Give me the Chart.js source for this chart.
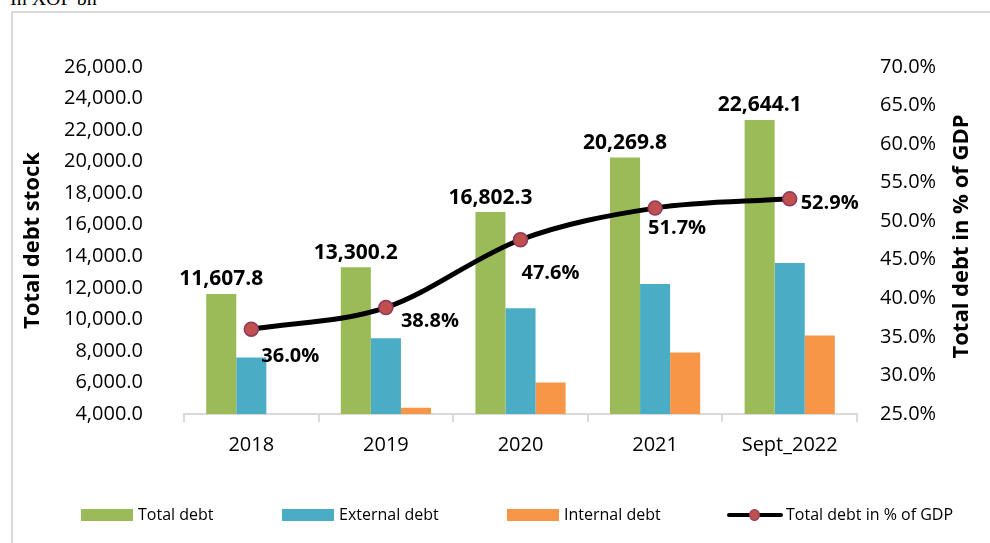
<!DOCTYPE html>
<html lang="en">
  <script src="https://cdnjs.cloudflare.com/ajax/libs/Chart.js/4.4.1/chart.umd.min.js"></script>
  <head>
    <meta charset="UTF-8" />
    <title>Total debt stock</title>
    <style>
      body { margin: 0; width: 990px; height: 543px; overflow: hidden; position: relative; background: #fff; }
      .unit { position: absolute; left: 10px; top: -13px; font: 20px "Liberation Serif", serif; color: #000; }
      .frame { position: absolute; left: 11px; top: 11px; width: 1000px; height: 560px; border: 2px solid #d9d9d9; }
      #wrap { position: absolute; left: 13px; top: 13px; width: 977px; height: 530px; }
      .legend { position: absolute; top: 504px; font: 16px "Open Sans", sans-serif; color: #000; height: 20px; line-height: 20px; }
      .legend .box { display: inline-block; width: 52px; height: 12px; vertical-align: -1px; margin-right: 5px; }
      .legend .ln { display: inline-block; position: relative; width: 56px; height: 12px; vertical-align: -1px; margin-right: 3px; }
      .legend .ln::before { content: ""; position: absolute; left: 0; right: 0; top: 4px; height: 4px; background: #000; border-radius: 2px; }
      .legend .ln::after { content: ""; position: absolute; left: 22px; top: 0; width: 9px; height: 10px; border-radius: 50%; background: #c0504d; border: 1px solid #8b3a62; }
    </style>
  </head>
  <body>
    <div class="unit">In XOF bn</div>
    <div class="frame"></div>
    <div id="wrap"><canvas id="debtChart" width="977" height="530"></canvas></div>

    <div class="legend" style="left:81px"><span class="box" style="background:#9bbb59"></span>Total debt</div>
    <div class="legend" style="left:282px"><span class="box" style="background:#4bacc6"></span>External debt</div>
    <div class="legend" style="left:507px"><span class="box" style="background:#f79646"></span>Internal debt</div>
    <div class="legend" style="left:727px"><span class="ln"></span>Total debt in % of GDP</div>

    <script>
      var years = ["2018", "2019", "2020", "2021", "Sept_2022"];
      var totalDebt = [11607.8, 13300.2, 16802.3, 20269.8, 22644.1];
      var externalDebt = [7580, 8800, 10700, 12250, 13570];
      var internalDebt = [4000, 4400, 6000, 7900, 8970];
      var debtToGdp = [36.0, 38.8, 47.6, 51.7, 52.9];

      var rightTitle = "Total debt in % of GDP";

      // where each % label sits relative to its point
      var pctLabelShift = [[39, 27], [44, 14], [30, 34], [22, 20], [40, 4]];

      var fontName = "'Open Sans', sans-serif";

      var labelPlugin = {
        id: "valueLabels",
        afterDatasetsDraw: function (chart) {
          var ctx = chart.ctx;
          ctx.save();
          ctx.fillStyle = "#000";
          ctx.font = "bold 21px " + fontName;
          ctx.textAlign = "center";
          ctx.textBaseline = "bottom";
          chart.getDatasetMeta(0).data.forEach(function (bar, i) {
            ctx.fillText(totalDebt[i].toLocaleString("en-US", { minimumFractionDigits: 1 }), bar.x, bar.y - 4);
          });
          ctx.font = "bold 20px " + fontName;
          ctx.textBaseline = "middle";
          chart.getDatasetMeta(3).data.forEach(function (pt, i) {
            ctx.fillText(debtToGdp[i].toFixed(1) + "%", pt.x + pctLabelShift[i][0], pt.y + pctLabelShift[i][1]);
          });
          ctx.restore();
        },
        afterDraw: function (chart) {
          // right axis title reads bottom-to-top, like the left one
          var ctx = chart.ctx;
          var area = chart.chartArea;
          ctx.save();
          ctx.translate(949, (area.top + area.bottom) / 2 - 4);
          ctx.rotate(-Math.PI / 2);
          ctx.fillStyle = "#000";
          ctx.font = "bold 22px " + fontName;
          ctx.textAlign = "center";
          ctx.textBaseline = "middle";
          ctx.fillText(rightTitle, 0, 0);
          ctx.restore();
        }
      };

      new Chart("debtChart", {
        type: "bar",
        data: {
          labels: years,
          datasets: [
            { label: "Total debt", data: totalDebt, backgroundColor: "#9bbb59", yAxisID: "y", order: 1 },
            { label: "External debt", data: externalDebt, backgroundColor: "#4bacc6", yAxisID: "y", order: 1 },
            { label: "Internal debt", data: internalDebt, backgroundColor: "#f79646", yAxisID: "y", order: 1 },
            {
              label: "Total debt in % of GDP",
              type: "line",
              data: debtToGdp,
              yAxisID: "y1",
              order: 0,
              borderColor: "#000",
              borderWidth: 5,
              cubicInterpolationMode: "monotone",
              pointRadius: 7,
              pointBackgroundColor: "#c0504d",
              pointBorderColor: "#8b3a62",
              pointBorderWidth: 1.5
            }
          ]
        },
        options: {
          responsive: false,
          animation: false,
          events: [],
          layout: { padding: { top: 54, bottom: 79, left: 0, right: 0 } },
          datasets: { bar: { categoryPercentage: 0.67, barPercentage: 1.0 } },
          plugins: { legend: { display: false }, tooltip: { enabled: false } },
          scales: {
            x: {
              grid: { display: true, drawOnChartArea: false, drawTicks: true, tickLength: 8, color: "#d9d9d9", lineWidth: 2 },
              border: { display: true, color: "#d9d9d9", width: 2 },
              ticks: { color: "#000", font: { family: fontName, size: 20 }, padding: 11 },
              afterFit: function (s) { s.height = 50; }
            },
            y: {
              position: "left",
              min: 4000,
              max: 26000,
              ticks: {
                stepSize: 2000,
                color: "#000",
                font: { family: fontName, size: 20 },
                padding: 41,
                callback: function (v) { return v.toLocaleString("en-US", { minimumFractionDigits: 1 }); }
              },
              grid: { display: false, drawTicks: false },
              border: { display: false },
              title: { display: true, text: "Total debt stock", color: "#000", font: { family: fontName, size: 22, weight: "bold" }, padding: { top: 7, bottom: 0 } },
              afterFit: function (s) { s.width = 171; }
            },
            y1: {
              position: "right",
              min: 25,
              max: 70,
              ticks: {
                stepSize: 5,
                color: "#000",
                font: { family: fontName, size: 20 },
                padding: 23,
                callback: function (v) { return v.toFixed(1) + "%"; }
              },
              grid: { display: false, drawTicks: false },
              border: { display: false },
              afterFit: function (s) { s.width = 133; }
            }
          }
        },
        plugins: [labelPlugin]
      });
    </script>
  </body>
</html>
